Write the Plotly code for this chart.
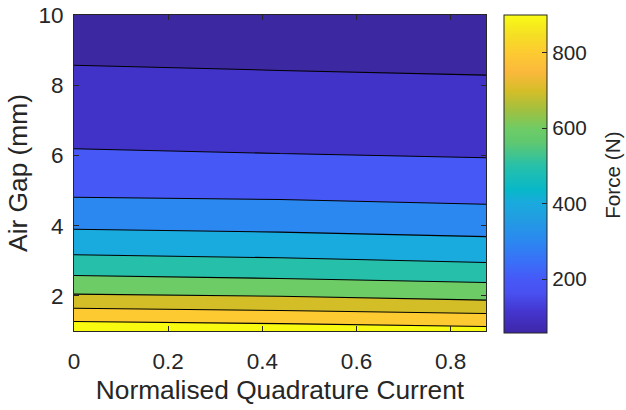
import plotly.graph_objects as go

# Lift force on the mover versus air gap and normalised quadrature current
current = [0.0, 0.4375, 0.875]
gap_mm = [1.0, 1.27, 1.65, 2.05, 2.58, 3.17, 3.90, 4.81, 6.19, 8.57, 10.0]
force_i0 = [970, 900, 800, 700, 600, 500, 400, 300, 200, 100, 64]
force_imid = [955, 884, 782, 685, 584, 486, 389, 293, 190, 94, 61]
force_imax = [935, 861, 759, 656, 566, 461, 375, 279, 182, 89, 57]

levels = dict(start=100, end=900, size=100)
color_limits = (57, 900)
cbar_ticks = [200, 400, 600, 800]
x_ticks = [0, 0.2, 0.4, 0.6, 0.8]
y_ticks = [2, 4, 6, 8, 10]

# band fill colours, lowest force band first (parula sampled at each band's lower level)
band_colors = ["#3c29a1", "#4133c8", "#4659f7", "#2b88f0", "#19aade",
               "#26c0aa", "#6dcc66", "#d4be28", "#fdca32", "#f8fa10"]

# continuous parula-like scale for the colour bar
parula = [
    [0.00, "#3e26a8"], [0.07, "#4436d0"], [0.125, "#4850f0"], [0.17, "#4659f7"],
    [0.22, "#3a6ef8"], [0.29, "#2b88f0"], [0.37, "#20a0e0"], [0.41, "#19aade"],
    [0.45, "#08b8c8"], [0.525, "#26c0aa"], [0.60, "#60c870"], [0.64, "#6dcc66"],
    [0.70, "#a0c040"], [0.76, "#d4be28"], [0.82, "#fbb83c"], [0.88, "#fdca32"],
    [0.94, "#f5e023"], [1.00, "#f9fb15"],
]

# stepped scale so each filled band takes exactly one colour
n = len(band_colors)
stepped = []
for k, c in enumerate(band_colors):
    lo = max(0.0, (k - 0.5) / (n - 1))
    hi = min(1.0, (k + 0.5) / (n - 1))
    stepped.append([lo, c])
    stepped.append([hi, c])

z = [[a, b, c] for a, b, c in zip(force_i0, force_imid, force_imax)]

font_family = "Liberation Sans, Arial, Helvetica, sans-serif"
ink = "#262626"

fig = go.Figure()
fig.add_trace(go.Contour(
    x=current, y=gap_mm, z=z,
    contours=dict(coloring="fill", showlines=True, **levels),
    colorscale=stepped,
    line=dict(color="black", width=1.1, smoothing=0),
    showscale=False,
    hoverinfo="skip",
))

# colour bar carrier
fig.add_trace(go.Scatter(
    x=[0, 0], y=[10, 10], mode="markers",
    marker=dict(
        color=list(color_limits), cmin=color_limits[0], cmax=color_limits[1],
        colorscale=parula, size=1, opacity=0, showscale=True,
        colorbar=dict(
            x=1.0437, xanchor="left", xpad=0,
            y=1.0, yanchor="top", ypad=0,
            thickness=43, thicknessmode="pixels",
            len=318, lenmode="pixels",
            outlinecolor=ink, outlinewidth=1,
            tickvals=cbar_ticks, ticks="inside", ticklen=5, tickcolor=ink,
            tickfont=dict(size=20.7, color=ink, family=font_family),
        ),
    ),
    hoverinfo="skip", showlegend=False,
))

fig.add_annotation(
    text="Force (N)", x=1.308, y=0.494, xref="paper", yref="paper",
    textangle=-90, showarrow=False, xanchor="center", yanchor="middle",
    font=dict(size=20.7, color=ink, family=font_family),
)

axis_common = dict(
    showline=True, linecolor=ink, linewidth=1, mirror="ticks",
    ticks="inside", ticklen=5, tickcolor=ink, tickwidth=1,
    showgrid=False, zeroline=False, automargin=False,
    tickfont=dict(size=22.5, color=ink, family=font_family),
)

fig.update_layout(
    width=626, height=410,
    margin=dict(l=74, r=140, t=15, b=79),
    paper_bgcolor="white", plot_bgcolor="white",
    font=dict(family=font_family, color=ink),
    showlegend=False,
    xaxis=dict(range=[0, 0.875], tickvals=x_ticks, ticklabelstandoff=10,
               title=dict(text="Normalised Quadrature Current", standoff=7,
                          font=dict(size=26.3, color=ink, family=font_family)),
               **axis_common),
    yaxis=dict(range=[1, 10], tickvals=y_ticks, ticklabelstandoff=5,
               title=dict(text="Air Gap (mm)", standoff=3,
                          font=dict(size=26.3, color=ink, family=font_family)),
               **axis_common),
)

fig.write_html("out.html")
